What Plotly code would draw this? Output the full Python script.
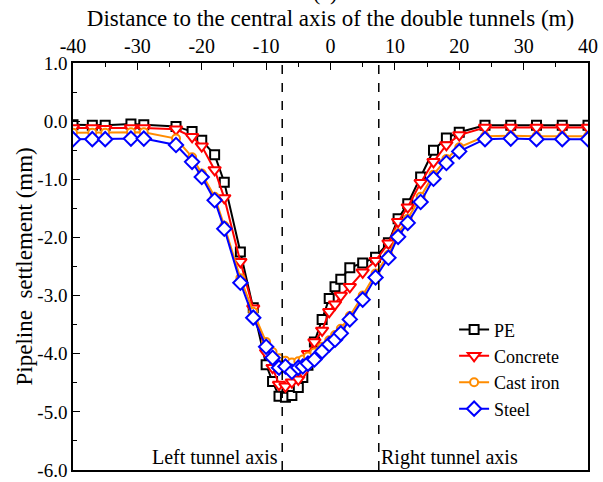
import plotly.graph_objects as go

# distance to the central axis (m)
distance = [-40, -37, -35, -31, -29, -24, -21.5, -20, -18, -16.5, -14, -12, -10, -9, -8, -7, -6, -5,
            -4.3, -3.5, -2.5, -1.3, -0.2, 0.7, 1.6, 3, 5, 7, 9, 10.5, 12, 14, 16, 18, 20, 24, 28, 32, 36, 40]

pe = [-0.06, -0.07, -0.07, -0.05, -0.06, -0.09, -0.18, -0.33, -0.58, -1.05, -2.25, -3.21, -4.19, -4.48,
      -4.73, -4.75, -4.72, -4.58, -4.41, -4.2, -3.8, -3.41, -3.05, -2.85, -2.72, -2.52, -2.44, -2.34,
      -2.09, -1.68, -1.42, -0.96, -0.5, -0.29, -0.19, -0.07, -0.07, -0.07, -0.07, -0.07]

concrete = [-0.12, -0.12, -0.13, -0.12, -0.12, -0.14, -0.27, -0.43, -0.84, -1.32, -2.42, -3.22, -3.98,
            -4.24, -4.53, -4.56, -4.49, -4.44, -4.32, -4.0, -3.8, -3.6, -3.28, -3.15, -3.0, -2.85, -2.6,
            -2.4, -2.1, -1.73, -1.48, -1.06, -0.7, -0.41, -0.24, -0.11, -0.11, -0.11, -0.11, -0.11]

cast_iron = [-0.2, -0.2, -0.2, -0.19, -0.19, -0.3, -0.62, -0.9, -1.3, -1.8, -2.7, -3.28, -3.8, -3.97,
             -4.08, -4.12, -4.15, -4.13, -4.1, -4.05, -3.98, -3.88, -3.77, -3.68, -3.57, -3.35, -3.0,
             -2.62, -2.3, -1.93, -1.68, -1.3, -0.92, -0.65, -0.45, -0.26, -0.25, -0.26, -0.26, -0.26]

steel = [-0.31, -0.31, -0.31, -0.3, -0.3, -0.41, -0.7, -0.96, -1.36, -1.85, -2.78, -3.38, -3.88, -4.07,
         -4.24, -4.22, -4.31, -4.24, -4.22, -4.17, -4.1, -3.96, -3.84, -3.76, -3.65, -3.41, -3.07, -2.69,
         -2.35, -1.99, -1.75, -1.39, -0.99, -0.72, -0.52, -0.31, -0.3, -0.31, -0.31, -0.31]

series_names = ["PE", "Concrete", "Cast iron", "Steel"]
tunnel_axes = [-7.5, 7.5]
tunnel_labels = ["Left tunnel axis", "Right tunnel axis"]

x_tick_vals = [-40, -30, -20, -10, 0, 10, 20, 30, 40]
x_tick_labels = ["-40", "-30", "-20", "-10", "0", "10", "20", "30", "40"]
y_tick_vals = [1, 0, -1, -2, -3, -4, -5, -6]
y_tick_labels = ["1.0", "0.0", "-1.0", "-2.0", "-3.0", "-4.0", "-5.0", "-6.0"]

FONT = "Liberation Serif"

styles = [
    dict(color="#000000", symbol="square", size=9),
    dict(color="#FF0000", symbol="triangle-down", size=11),
    dict(color="#FF8C00", symbol="circle", size=8),
    dict(color="#0000FF", symbol="diamond", size=11),
]

fig = go.Figure()
for name, ys, st in zip(series_names, [pe, concrete, cast_iron, steel], styles):
    fig.add_trace(go.Scatter(
        x=distance, y=ys, name=name, mode="lines+markers",
        line=dict(color=st["color"], width=2),
        marker=dict(symbol=st["symbol"], size=st["size"], color="white",
                    line=dict(color=st["color"], width=2)),
    ))

for xv in tunnel_axes:
    fig.add_shape(type="line", x0=xv, x1=xv, y0=0, y1=1, xref="x", yref="paper",
                  line=dict(color="black", width=1.5, dash="dash"))

fig.add_annotation(x=tunnel_axes[0], y=-5.78, text=tunnel_labels[0], showarrow=False,
                   xanchor="right", xshift=-2, font=dict(family=FONT, size=20, color="black"))
fig.add_annotation(x=tunnel_axes[1], y=-5.78, text=tunnel_labels[1], showarrow=False,
                   xanchor="left", xshift=0, font=dict(family=FONT, size=20, color="black"))
fig.add_annotation(x=0.49, y=1, xref="paper", yref="paper", text="(a)", showarrow=False,
                   yanchor="bottom", yshift=56, font=dict(family=FONT, size=22, color="black"))
# y-axis title placed as a rotated annotation for precise position
fig.add_annotation(x=0, y=0.5, xref="paper", yref="paper", text="Pipeline  settlement (mm)",
                   textangle=-90, showarrow=False, xanchor="center", yanchor="middle", xshift=-49,
                   font=dict(family=FONT, size=23, color="black"))

fig.update_layout(
    width=603, height=482,
    margin=dict(l=73, r=15, t=63, b=12),
    paper_bgcolor="white", plot_bgcolor="white",
    font=dict(family=FONT, size=20, color="black"),
    showlegend=True,
    legend=dict(x=0.74, y=0.39, xanchor="left", yanchor="top", bgcolor="rgba(0,0,0,0)",
                font=dict(family=FONT, size=18), tracegroupgap=0, itemwidth=30),
    xaxis=dict(
        side="top", range=[-40, 40], tickvals=x_tick_vals, ticktext=x_tick_labels,
        ticks="inside", ticklen=7, tickwidth=1.2, tickcolor="black",
        minor=dict(dtick=5, ticks="inside", ticklen=4, tickcolor="black"),
        showline=True, linecolor="black", linewidth=1.5, mirror=True,
        showgrid=False, zeroline=False, automargin=False,
        title=dict(text="Distance to the central axis of the double tunnels (m)",
                   font=dict(family=FONT, size=23), standoff=2),
        tickfont=dict(family=FONT, size=20),
    ),
    yaxis=dict(
        range=[-6, 1], tickvals=y_tick_vals, ticktext=y_tick_labels,
        ticks="inside", ticklen=7, tickwidth=1.2, tickcolor="black",
        minor=dict(dtick=0.5, ticks="inside", ticklen=4, tickcolor="black"),
        showline=True, linecolor="black", linewidth=1.5, mirror=True,
        showgrid=False, zeroline=False, automargin=False,
        tickfont=dict(family=FONT, size=19),
    ),
)

# remove the default 8px page margin so the 603x482 figure fills the window exactly
fig.write_html("out.html", config={"displayModeBar": False},
               post_script="document.body.style.margin='0';")
